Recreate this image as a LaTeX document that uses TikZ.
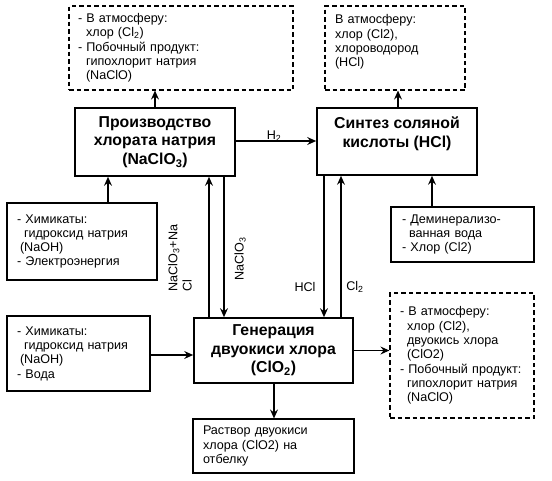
\documentclass[tikz,border=0pt]{standalone}
\usepackage{fontspec}
\setmainfont{Liberation Sans}
\usetikzlibrary{arrows.meta}
\tikzset{
  x=1pt, y=-1pt,
  txt/.style={font=\fontsize{12.6}{14.3}\selectfont},
  mainbox/.style={draw, line width=1.7pt, align=center, inner sep=0pt,
    font=\bfseries\fontsize{15.8}{18.5}\selectfont},
  inbox/.style={draw, line width=1.2pt, align=left, inner ysep=0pt, txt},
  dbox/.style={draw, dashed, dash pattern=on 4.5pt off 3pt, line width=1.2pt, align=left, inner ysep=0pt, txt},
  arr/.style={line width=1.1pt, -{Stealth[length=9pt,width=8pt,inset=3.2pt]}},
  lab/.style={txt, inner sep=0pt}
}
\newcommand{\ind}[1]{\hspace*{#1pt}}
\begin{document}
\begin{tikzpicture}
\useasboundingbox (0,0) rectangle (552,480);
\fill[white] (0,0) rectangle (552,480);

% main boxes
\node[mainbox, minimum width=160, minimum height=68] (A) at (155,142)
  {Производство\\хлората натрия\\(NaClO\textsubscript{3})};
\node[mainbox, minimum width=160, minimum height=67] (B) at (397,141.5)
  {Синтез соляной\\кислоты (HCl)\\\mbox{}};
\node[mainbox, minimum width=159, minimum height=65] (C) at (273.5,350.5)
  {Генерация\\двуокиси хлора\\(ClO\textsubscript{2})};

% dashed output boxes
\node[dbox, inner xsep=9, text width=206, minimum height=84] (D1) at (181,48)
  {- В атмосферу:\\\ind{8}хлор (Cl\textsubscript{2})\\- Побочный продукт:\\\ind{8}гипохлорит натрия\\\ind{8}(NaClO)};
\node[dbox, inner xsep=10, text width=120, minimum height=84] (D2) at (395,48)
  {В атмосферу:\\хлор (Cl2),\\хлороводород\\(HCl)\\\mbox{}};
\node[dbox, inner xsep=10, text width=124, minimum height=125] (RD) at (462,355.5)
  {- В атмосферу:\\\ind{7}хлор (Cl2),\\\ind{7}двуокись хлора\\\ind{7}(ClO2)\\- Побочный продукт:\\\ind{7}гипохлорит натрия\\\ind{7}(NaClO)};

% input boxes
\node[inbox, inner xsep=10, text width=130, minimum height=77] (L1) at (82,241.5)
  {- Химикаты:\\\ind{7}гидроксид натрия\\\ind{3}(NaOH)\\- Электроэнергия};
\node[inbox, inner xsep=11, text width=121, minimum height=55] (R1) at (462.5,234.5)
  {- Деминерализо-\\\ind{7}ванная вода\\- Хлор (Cl2)};
\node[inbox, inner xsep=10, text width=123, minimum height=75] (L2) at (78.5,353.5)
  {- Химикаты:\\\ind{7}гидроксид натрия\\\ind{3}(NaOH)\\- Вода};
\node[inbox, inner xsep=10, text width=141, minimum height=54] (BB) at (273.5,446)
  {Раствор двуокиси\\хлора (ClO2) на\\отбелку};

% connectors
\draw[arr] (A.north) -- (A.north |- D1.south);
\draw[arr] ([xshift=1]B.north) -- ([xshift=1]B.north |- D2.south);
\draw[arr] ([yshift=1]A.east) -- ([yshift=1]A.east -| B.west);
\draw[arr] ([xshift=26]L1.north) -- ([xshift=26]L1.north |- A.south);
\draw[arr] ([xshift=-30.5]R1.north) -- ([xshift=-30.5]R1.north |- B.south);
\draw[arr] ([xshift=54]A.south |- C.north) -- ([xshift=54]A.south);
\draw[arr] ([xshift=69]A.south) -- ([xshift=69]A.south |- C.north);
\draw[arr] ([xshift=-73]B.south) -- ([xshift=-73]B.south |- C.north);
\draw[arr] ([xshift=-56]B.south |- C.north) -- ([xshift=-56]B.south);
\draw[arr] ([yshift=-1.5]L2.east) -- ([yshift=-1.5]L2.east -| C.west);
\draw[arr] (C.east) -- (C.east -| RD.west);
\draw[arr] ([xshift=0.5]C.south) -- ([xshift=0.5]C.south |- BB.north);

% connector labels
\node[lab] (lH2) at (274,136) {H\textsubscript{2}};
\node[lab, rotate=90, align=left] (lmix) at (180,258) {NaClO\textsubscript{3}+Na\\Cl};
\node[lab, rotate=90] (lchl) at (240,259) {NaClO\textsubscript{3}};
\node[lab] (lHCl) at (305,287) {HCl};
\node[lab] (lCl2) at (355,287) {Cl\textsubscript{2}};
\end{tikzpicture}
\end{document}
